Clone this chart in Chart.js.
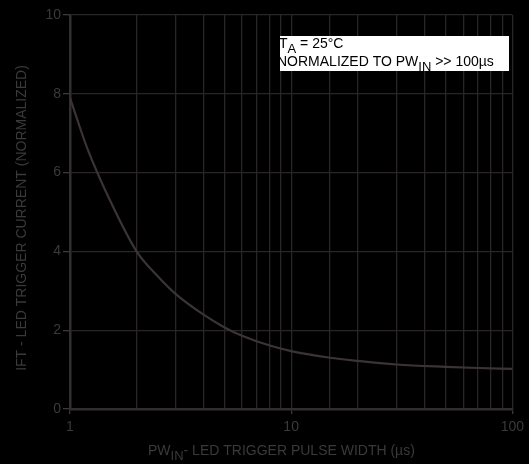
<!DOCTYPE html>
<html>
<head>
<meta charset="utf-8">
<script src="https://cdn.jsdelivr.net/npm/chart.js@4/dist/chart.umd.min.js"></script>
<style>
  html, body { margin: 0; padding: 0; background: #000; }
  #wrap { width: 529px; height: 464px; }
</style>
</head>
<body>
<div id="wrap"><canvas id="chart_Trigger"></canvas></div>
<script>
  // pulse width (us) and normalized trigger current
  const pulseWidth = [1, 1.2, 1.5, 2, 2.5, 3, 4, 5, 6, 8, 10, 15, 20, 30, 50, 70, 100];
  const triggerCurrent = [7.9, 6.6, 5.35, 4.0, 3.36, 2.92, 2.4, 2.07, 1.86, 1.61, 1.47, 1.3, 1.22, 1.13, 1.07, 1.04, 1.02];
  const yTicks = [0, 2, 4, 6, 8, 10];
  const xTickLabels = [1, 10, 100];

  const gridColor = "#2a2527";
  const textColor = "#3a3a3a";
  const font = "'Liberation Sans', Arial, sans-serif";

  // draws text with a subscript part, returns the end x
  function subText(c, parts, x, y) {
    parts.forEach(function (p) {
      c.font = (p.sub ? "13px " : "14px ") + font;
      c.fillText(p.t, x, y + (p.sub ? 5 : 0));
      x += c.measureText(p.t).width;
    });
    return x;
  }

  const extraText = {
    id: 'extraText',
    afterDraw(chart) {
      const c = chart.ctx;
      c.save();
      c.textBaseline = 'alphabetic';
      c.textAlign = 'left';

      // x axis title
      c.fillStyle = textColor;
      subText(c, [{t: "PW"}, {t: "IN", sub: true}, {t: "- LED TRIGGER PULSE WIDTH (\u00b5s)"}], 148, 455);

      // y axis title
      c.save();
      c.translate(26, 218);
      c.rotate(-Math.PI / 2);
      c.textAlign = 'center';
      c.font = "14px " + font;
      c.fillText("IFT - LED TRIGGER CURRENT (NORMALIZED)", 0, 0);
      c.restore();

      // note box
      c.fillStyle = "#fff";
      c.fillRect(280, 36, 229, 35);
      c.fillStyle = "#000";
      subText(c, [{t: "T"}, {t: "A", sub: true}, {t: " = 25\u00b0C"}], 279, 48);
      subText(c, [{t: "NORMALIZED TO PW"}, {t: "IN", sub: true}, {t: " >> 100\u00b5s"}], 277, 66);
      c.restore();
    }
  };

  const ctx = document.getElementById('chart_Trigger');

  new Chart(ctx, {
    type: 'line',
    data: {
      datasets: [{
        data: pulseWidth.map((x, i) => ({x: x, y: triggerCurrent[i]})),
        borderColor: "#3b3436",
        borderWidth: 2.2,
        pointRadius: 0,
        cubicInterpolationMode: 'monotone',
        fill: false
      }]
    },
    options: {
      responsive: true,
      maintainAspectRatio: false,
      animation: false,
      layout: { padding: { top: 15, right: 16, left: 0, bottom: 0 } },
      plugins: { legend: { display: false }, tooltip: { enabled: false } },
      scales: {
        x: {
          type: 'logarithmic',
          min: 1,
          max: 100,
          afterFit(scale) { scale.height = 55; },
          grid: {
            color: gridColor,
            lineWidth: 1.3,
            tickLength: 5,
            tickColor: c => xTickLabels.includes(c.tick && c.tick.value) ? "#3a3a3a" : 'transparent'
          },
          border: { color: "#332e30", width: 2.5 },
          ticks: {
            autoSkip: false,
            maxRotation: 0,
            padding: 5,
            color: textColor,
            font: { family: font, size: 14 },
            callback: v => xTickLabels.includes(v) ? String(v) : ''
          }
        },
        y: {
          min: 0,
          max: 10,
          afterFit(scale) { scale.width = 70; },
          afterBuildTicks(scale) { scale.ticks = yTicks.map(v => ({value: v})); },
          grid: { color: gridColor, lineWidth: 1.3, tickLength: 7, tickColor: "#3a3a3a" },
          border: { color: "#332e30", width: 2.5 },
          ticks: {
            padding: 2,
            color: textColor,
            font: { family: font, size: 14 }
          }
        }
      }
    },
    plugins: [extraText]
  });
</script>
</body>
</html>
